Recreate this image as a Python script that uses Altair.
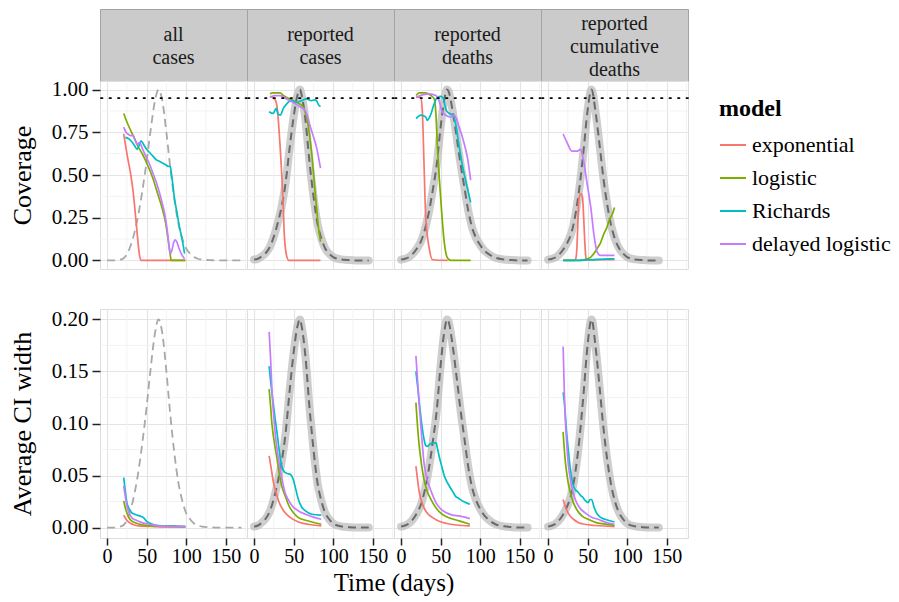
import altair as alt
import pandas as pd

FONT = "Liberation Serif"

COLS = ["all cases", "reported cases", "reported deaths", "reported cumulative deaths"]
STRIP_LABELS = ["all\ncases", "reported\ncases", "reported\ndeaths", "reported\ncumulative\ndeaths"]
MODELS = ["exponential", "logistic", "Richards", "delayed logistic"]
COLORS = ["#F8766D", "#7CAE00", "#00BFC4", "#C77CFF"]
X_TICKS = [0, 50, 100, 150]
X_MINOR = [25, 75, 125, 175]
COV_TICKS = [0, 0.25, 0.5, 0.75, 1.0]
COV_MINOR = [0.125, 0.375, 0.625, 0.875]
CI_TICKS = [0, 0.05, 0.10, 0.15, 0.20]
CI_MINOR = [0.025, 0.075, 0.125, 0.175]
TARGET = [0.95]
CI_CURVE_PEAK = 0.2
Y_TITLES = {"cov": "Coverage", "ci": "Average CI width"}
X_TITLE = "Time (days)"

# epidemic curves (scaled so that the peak is 1)
EPI_ALL_DAY = [0, 5, 10, 15, 20, 25, 30, 35, 40, 45, 50, 55, 60, 65, 70, 75, 80, 85, 90, 95, 100,
               105, 110, 115, 120, 130, 140, 150, 160, 170]
EPI_ALL_VAL = [0, 0, 0, 0.003, 0.01, 0.035, 0.09, 0.17, 0.28, 0.42, 0.58, 0.76, 0.92, 1.0, 0.93,
               0.75, 0.54, 0.36, 0.22, 0.13, 0.07, 0.04, 0.02, 0.01, 0.005, 0.002, 0, 0, 0, 0]
EPI_RC_DAY = [0, 5, 10, 15, 20, 25, 30, 35, 40, 45, 50, 55, 58, 60, 65, 70, 75, 80, 85, 90, 95,
              100, 110, 120, 130, 145]
EPI_RC_VAL = [0.005, 0.01, 0.025, 0.045, 0.08, 0.14, 0.22, 0.32, 0.46, 0.66, 0.84, 0.97, 1.0, 0.97,
              0.82, 0.58, 0.38, 0.22, 0.13, 0.07, 0.04, 0.02, 0.006, 0.002, 0, 0]
EPI_RD_DAY = [0, 5, 10, 15, 20, 25, 30, 35, 40, 45, 50, 55, 58, 60, 65, 70, 75, 80, 85, 90, 95,
              100, 105, 110, 120, 130, 140, 150, 160]
EPI_RD_VAL = [0.005, 0.01, 0.02, 0.04, 0.07, 0.11, 0.18, 0.28, 0.41, 0.56, 0.78, 0.95, 1.0, 0.99,
              0.88, 0.73, 0.57, 0.43, 0.29, 0.19, 0.13, 0.09, 0.06, 0.04, 0.015, 0.006, 0.002, 0, 0]
EPI_CD_DAY = [0, 5, 10, 15, 20, 25, 30, 35, 40, 45, 50, 55, 60, 65, 70, 75, 80, 85, 90, 95, 100,
              110, 120, 130, 140]
EPI_CD_VAL = [0.005, 0.01, 0.02, 0.04, 0.07, 0.11, 0.17, 0.28, 0.44, 0.65, 0.88, 1.0, 0.87, 0.68,
              0.48, 0.32, 0.2, 0.12, 0.07, 0.04, 0.02, 0.006, 0.002, 0, 0]

# coverage (top row): model -> (days, values)
COV_ALL_CASES = {
    "exponential": ([21, 26, 30, 33, 37, 41, 43, 99],
                    [0.74, 0.60, 0.50, 0.40, 0.21, 0.03, 0.0, 0.0]),
    "logistic": ([21, 26, 33, 40, 45, 52, 58, 64, 70, 74, 77, 80, 81, 99],
                 [0.86, 0.80, 0.73, 0.66, 0.62, 0.55, 0.48, 0.39, 0.30, 0.22, 0.13, 0.03, 0.0, 0.0]),
    "Richards": ([23, 28, 32, 35, 38, 41, 43, 46, 50, 54, 58, 62, 66, 70, 74, 78, 80, 81, 83, 85,
                  88, 91, 95, 98],
                 [0.72, 0.71, 0.69, 0.67, 0.65, 0.68, 0.70, 0.68, 0.65, 0.63, 0.61, 0.59, 0.58,
                  0.57, 0.56, 0.55, 0.55, 0.52, 0.45, 0.37, 0.29, 0.21, 0.12, 0.04]),
    "delayed logistic": ([21, 24, 26, 30, 33, 36, 38, 41, 45, 50, 54, 58, 62, 66, 70, 73, 76, 79,
                          80, 82, 84, 86, 88, 91, 95, 98],
                         [0.78, 0.75, 0.74, 0.73, 0.73, 0.70, 0.68, 0.69, 0.65, 0.60, 0.56, 0.51,
                          0.46, 0.40, 0.33, 0.27, 0.18, 0.06, 0.04, 0.06, 0.10, 0.12, 0.11, 0.07,
                          0.03, 0.01]),
}
COV_REPORTED_CASES = {
    "exponential": ([20, 26, 29, 31, 33, 35, 37, 38, 41, 44, 84],
                    [0.96, 0.945, 0.90, 0.80, 0.66, 0.50, 0.30, 0.17, 0.03, 0.0, 0.0]),
    "logistic": ([20, 24, 33, 37, 45, 54, 62, 65, 68, 71, 73, 75, 77, 79, 81, 84],
                 [0.975, 0.98, 0.98, 0.965, 0.945, 0.925, 0.90, 0.86, 0.80, 0.70, 0.62, 0.52, 0.41,
                  0.31, 0.21, 0.11]),
    "Richards": ([19, 24, 28, 30, 33, 37, 41, 47, 54, 60, 66, 72, 77, 79, 81, 84],
                 [0.87, 0.86, 0.89, 0.86, 0.85, 0.89, 0.915, 0.935, 0.925, 0.935, 0.945, 0.935,
                  0.94, 0.935, 0.915, 0.90]),
    "delayed logistic": ([20, 26, 33, 41, 49, 58, 64, 67, 70, 74, 79, 84],
                         [0.955, 0.965, 0.965, 0.945, 0.925, 0.90, 0.88, 0.85, 0.80, 0.74, 0.66,
                          0.54]),
}
COV_REPORTED_DEATHS = {
    "exponential": ([19, 25, 27, 29, 31, 35.6, 40, 59],
                    [0.955, 0.955, 0.86, 0.56, 0.27, 0.07, 0.004, 0.0]),
    "logistic": ([19, 23, 31, 37.7, 42, 44, 46, 50, 54.5, 58.7, 63, 88],
                 [0.965, 0.98, 0.98, 0.965, 0.945, 0.86, 0.66, 0.37, 0.11, 0.014, 0.0, 0.0]),
    "Richards": ([19, 25, 31, 33, 38, 42, 46, 50, 53, 57, 61, 65, 69, 73, 77, 81, 85, 88],
                 [0.83, 0.85, 0.84, 0.82, 0.86, 0.92, 0.955, 0.96, 0.95, 0.88, 0.86, 0.85, 0.80,
                  0.68, 0.57, 0.48, 0.40, 0.34]),
    "delayed logistic": ([19, 28, 35.6, 44, 48, 52, 56.6, 63, 67, 73.5, 80, 84, 88],
                         [0.955, 0.97, 0.975, 0.965, 0.935, 0.87, 0.85, 0.84, 0.85, 0.78, 0.68,
                          0.60, 0.47]),
}
COV_CUM_DEATHS = {
    "exponential": ([19, 33, 35, 36.5, 37.5, 38.5, 40, 42, 43.5, 44.5, 45.5, 46.5, 47.5, 48.5, 84],
                    [0, 0, 0.01, 0.08, 0.2, 0.33, 0.38, 0.39, 0.37, 0.3, 0.2, 0.1, 0.03, 0.005,
                     0.005]),
    "logistic": ([19, 40, 45, 50, 54, 58, 62, 66, 70, 74, 77, 80, 82, 84],
                 [0, 0, 0.003, 0.01, 0.02, 0.04, 0.07, 0.10, 0.15, 0.19, 0.23, 0.26, 0.28, 0.31]),
    "Richards": ([19, 40, 60, 84], [0.0, 0.0, 0.005, 0.01]),
    "delayed logistic": ([19, 24, 30, 34, 37, 41, 45, 49, 54, 58, 62, 66, 75, 84],
                         [0.74, 0.69, 0.64, 0.64, 0.64, 0.65, 0.58, 0.46, 0.31, 0.15, 0.05, 0.03,
                          0.03, 0.03]),
}

# average CI width (bottom row)
CI_ALL_CASES = {
    "exponential": ([21, 24, 27, 33, 40, 60, 99],
                    [0.012, 0.008, 0.0054, 0.003, 0.0016, 0.001, 0.0006]),
    "logistic": ([21, 23, 25, 28, 31, 40, 48, 65, 99],
                 [0.0256, 0.019, 0.0144, 0.009, 0.0064, 0.0035, 0.0022, 0.0014, 0.001]),
    "Richards": ([21, 23, 25, 28, 31, 34, 38, 42, 46, 50, 55, 65, 82, 99],
                 [0.048, 0.035, 0.024, 0.018, 0.0144, 0.013, 0.012, 0.011, 0.0096, 0.006, 0.004,
                  0.002, 0.0016, 0.001]),
    "delayed logistic": ([21, 23, 25, 28, 31, 37, 44, 55, 65, 80, 99],
                         [0.040, 0.030, 0.021, 0.014, 0.0096, 0.007, 0.0048, 0.003, 0.0016,
                          0.0012, 0.001]),
}
CI_REPORTED_CASES = {
    "exponential": ([19, 22, 24.6, 28, 31, 35, 39, 45, 56, 70, 85],
                    [0.069, 0.055, 0.043, 0.033, 0.0256, 0.019, 0.0144, 0.010, 0.0054, 0.003,
                     0.0016]),
    "logistic": ([19, 21, 22.5, 26, 29, 32, 35, 40, 44, 50, 56, 65, 73, 85],
                 [0.133, 0.115, 0.10, 0.08, 0.066, 0.051, 0.040, 0.029, 0.021, 0.014, 0.0096,
                  0.007, 0.0054, 0.0032]),
    "Richards": ([19, 21, 22.5, 26, 29, 32, 35, 39, 42, 46, 50, 53, 56, 60, 65, 73, 85],
                 [0.155, 0.14, 0.130, 0.108, 0.091, 0.073, 0.059, 0.053, 0.052, 0.051, 0.045,
                  0.036, 0.027, 0.020, 0.016, 0.0128, 0.012]),
    "delayed logistic": ([19, 21, 22.5, 25, 27, 30, 33, 36, 39, 43, 48, 56, 65, 75, 85],
                         [0.188, 0.16, 0.133, 0.105, 0.088, 0.07, 0.056, 0.044, 0.034, 0.027,
                          0.021, 0.016, 0.0128, 0.010, 0.008]),
}
CI_REPORTED_DEATHS = {
    "exponential": ([18.7, 21, 23, 26, 29, 34, 40, 48, 56.6, 70, 87],
                    [0.059, 0.045, 0.034, 0.025, 0.019, 0.013, 0.0096, 0.006, 0.0042, 0.0025,
                     0.0016]),
    "logistic": ([18.7, 21, 23, 26, 29, 33, 37.7, 44, 52, 62, 73.5, 87],
                 [0.12, 0.095, 0.078, 0.06, 0.046, 0.035, 0.027, 0.019, 0.0128, 0.009, 0.0064,
                  0.0032]),
    "Richards": ([18.7, 21, 23, 26, 29, 31, 33.5, 36, 38, 41, 44, 46, 48, 51, 54.5, 58, 61, 65,
                  69, 73, 77.6, 82, 87],
                 [0.15, 0.135, 0.12, 0.10, 0.085, 0.079, 0.078, 0.080, 0.081, 0.081, 0.0816,
                  0.076, 0.069, 0.060, 0.050, 0.044, 0.040, 0.035, 0.030, 0.028, 0.0256, 0.024,
                  0.0224]),
    "delayed logistic": ([18.7, 21, 23, 26, 29, 32, 35.6, 40, 44, 50, 56.6, 65, 73.5, 87],
                         [0.165, 0.14, 0.117, 0.088, 0.062, 0.049, 0.040, 0.031, 0.024, 0.018,
                          0.0144, 0.012, 0.0112, 0.0086]),
}
CI_CUM_DEATHS = {
    "exponential": ([19, 21, 23, 27, 32, 38, 46.5, 60, 84],
                    [0.027, 0.022, 0.0176, 0.012, 0.008, 0.005, 0.0032, 0.002, 0.001]),
    "logistic": ([19, 20, 22, 25, 27.6, 32, 36, 43, 50.7, 60, 70, 84],
                 [0.092, 0.08, 0.062, 0.045, 0.035, 0.024, 0.0176, 0.011, 0.008, 0.005, 0.0035,
                  0.0022]),
    "Richards": ([19, 20, 21, 23, 25.5, 28, 32, 35, 38, 41, 44, 47, 50.7, 53, 55, 58, 61, 66, 72,
                  84],
                 [0.130, 0.124, 0.117, 0.095, 0.075, 0.057, 0.040, 0.036, 0.034, 0.031, 0.029,
                  0.026, 0.024, 0.027, 0.027, 0.02, 0.0144, 0.010, 0.008, 0.0054]),
    "delayed logistic": ([19, 20, 21, 23, 24.6, 27, 29.7, 33, 36, 41, 46.5, 55, 63, 73, 84],
                         [0.174, 0.145, 0.117, 0.088, 0.069, 0.052, 0.040, 0.030, 0.024, 0.018,
                          0.0144, 0.010, 0.008, 0.005, 0.0032]),
}

EPI = [(EPI_ALL_DAY, EPI_ALL_VAL), (EPI_RC_DAY, EPI_RC_VAL), (EPI_RD_DAY, EPI_RD_VAL),
       (EPI_CD_DAY, EPI_CD_VAL)]
COV_PANELS = [COV_ALL_CASES, COV_REPORTED_CASES, COV_REPORTED_DEATHS, COV_CUM_DEATHS]
CI_PANELS = [CI_ALL_CASES, CI_REPORTED_CASES, CI_REPORTED_DEATHS, CI_CUM_DEATHS]

PANEL_W = 147
STRIP_H = 72
GAP_H = 40
XTITLE_H = 50
H = {"cov": 188, "ci": 229}
STRIP_FS = 20
STRIP_LH = 23
GRID_MAJOR = "#e4e4e4"
GRID_MINOR = "#f3f3f3"
BORDER = "#a3a3a3"
XS = alt.Scale(domain=[-9, 177], nice=False, zero=False)
LEGEND = alt.Legend(title="model", orient="none", legendX=619, legendY=88,
                    symbolType="stroke", symbolSize=676, symbolStrokeWidth=2,
                    rowPadding=8, labelOffset=5, titlePadding=10,
                    titleFont=FONT, titleFontSize=24, titleFontWeight="bold", titleColor="black",
                    labelFont=FONT, labelFontSize=22, labelColor="black")
CSCALE = alt.Scale(domain=MODELS, range=COLORS)


def lines_df(d):
    rows = []
    for m in MODELS:
        days, vals = d[m]
        for x, v in zip(days, vals):
            rows.append({"model": m, "day": x, "value": v})
    return pd.DataFrame(rows)


def make_panel(row, ci):
    first = ci == 0
    bottom = row == "ci"
    ys = alt.Scale(domain=[-0.05, 1.05] if row == "cov" else [-0.01, 0.21], nice=False, zero=False)
    xaxis = alt.Axis(values=X_TICKS, grid=True, gridColor=GRID_MAJOR, gridWidth=1.2, domain=False,
                     labels=bottom, ticks=bottom, tickColor="#222222", tickSize=7, tickWidth=1.5,
                     labelFont=FONT, labelFontSize=20, labelColor="black", labelPadding=1,
                     labelFlush=False, title=None)
    yaxis_kw = dict(values=COV_TICKS if row == "cov" else CI_TICKS, format=".2f", grid=True,
                    gridColor=GRID_MAJOR, gridWidth=1.2, domain=False, labels=first, ticks=first,
                    tickColor="#222222", tickSize=8, tickWidth=1.5, labelFont=FONT,
                    labelFontSize=21, labelColor="black", labelPadding=4, minExtent=0)
    if first:
        yaxis = alt.Axis(title=Y_TITLES[row], titleFont=FONT, titleFontSize=26,
                         titleFontWeight="normal", titleColor="black", titlePadding=16, **yaxis_kw)
    else:
        yaxis = alt.Axis(title=None, **yaxis_kw)
    x = alt.X("day:Q", scale=XS, axis=xaxis)
    y = alt.Y("value:Q", scale=ys, axis=yaxis)

    vgrid = alt.Chart(pd.DataFrame({"day": X_MINOR})).mark_rule(
        color=GRID_MINOR, strokeWidth=1).encode(x=x)
    hgrid = alt.Chart(pd.DataFrame({"value": COV_MINOR if row == "cov" else CI_MINOR})).mark_rule(
        color=GRID_MINOR, strokeWidth=1).encode(y=y)
    layers = [vgrid, hgrid]

    days, vals = EPI[ci]
    factor = 1.0 if row == "cov" else CI_CURVE_PEAK
    edf = pd.DataFrame({"day": days, "value": [v * factor for v in vals]})
    if ci == 0:
        layers.append(alt.Chart(edf).mark_line(color="#a8a8a8", strokeWidth=1.8, strokeDash=[8, 5],
                                               interpolate="monotone").encode(x=x, y=y))
    else:
        layers.append(alt.Chart(edf).mark_line(color="#bdbdbd", strokeWidth=8, opacity=0.75,
                                               interpolate="monotone", strokeCap="round",
                                               strokeJoin="round").encode(x=x, y=y))
        layers.append(alt.Chart(edf).mark_line(color="#6a6a6a", strokeWidth=2, strokeDash=[8, 5],
                                               interpolate="monotone").encode(x=x, y=y))
    mdf = lines_df(COV_PANELS[ci] if row == "cov" else CI_PANELS[ci])
    layers.append(alt.Chart(mdf).mark_line(strokeWidth=1.7, interpolate="monotone", clip=True).encode(
        x=x, y=y, color=alt.Color("model:N", scale=CSCALE, legend=LEGEND, sort=MODELS)))
    if row == "cov":
        layers.append(alt.Chart(pd.DataFrame({"value": TARGET})).mark_rule(
            color="black", strokeWidth=1.8, strokeDash=[1.5, 7], strokeCap="round").encode(y=y))
    return alt.layer(*layers).properties(width=PANEL_W, height=H[row])


def make_strip(ci):
    label = STRIP_LABELS[ci]
    n_lines = label.count("\n") + 1
    first_line_y = STRIP_H / 2 + 1.5 - (n_lines - 1) * STRIP_LH / 2
    return alt.Chart(pd.DataFrame({"label": [label]})).mark_text(
        font=FONT, fontSize=STRIP_FS, lineHeight=STRIP_LH, align="center", baseline="middle",
        lineBreak="\n", color="#1a1a1a").encode(
        x=alt.value(PANEL_W / 2), y=alt.value(first_line_y), text="label:N").properties(
        width=PANEL_W, height=STRIP_H,
        view=alt.ViewBackground(fill="#cbcbcb", stroke=BORDER, strokeWidth=1))


def blank(h):
    return alt.Chart(pd.DataFrame({"a": [0]})).mark_point(opacity=0).encode(
        x=alt.value(0), y=alt.value(0)).properties(
        width=PANEL_W, height=h, view=alt.ViewBackground(strokeOpacity=0, fillOpacity=0))


xtitle = alt.Chart(pd.DataFrame({"t": [X_TITLE]})).mark_text(
    font=FONT, fontSize=25, align="center", baseline="middle", color="black").encode(
    x=alt.value(PANEL_W), y=alt.value(45), text="t:N").properties(
    width=PANEL_W, height=XTITLE_H, view=alt.ViewBackground(strokeOpacity=0, fillOpacity=0))

cells = ([make_strip(i) for i in range(4)]
         + [make_panel("cov", i) for i in range(4)]
         + [blank(GAP_H) for _ in range(4)]
         + [make_panel("ci", i) for i in range(4)]
         + [blank(XTITLE_H), xtitle])

chart = alt.concat(*cells, columns=4, spacing=0, bounds="flush", align="each").properties(
    padding={"left": 0, "top": 0, "right": 0, "bottom": 0}
).configure_view(
    stroke=BORDER, strokeWidth=1, fill="white"
).configure(background="white")

chart.save("out.html", embed_options={"renderer": "svg", "actions": False})
